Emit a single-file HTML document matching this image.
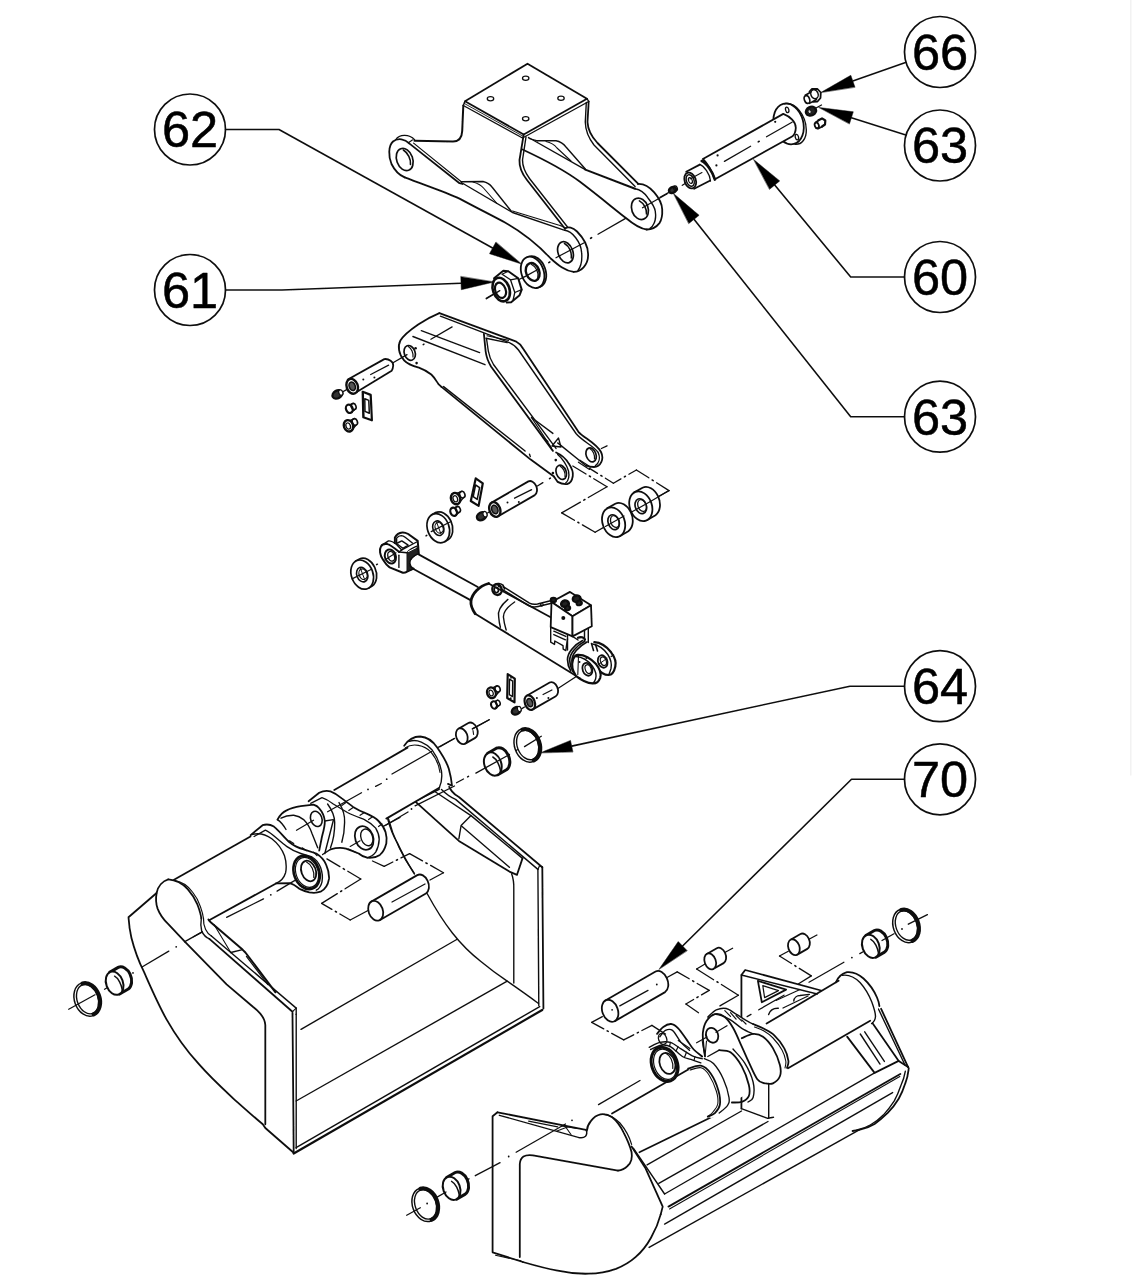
<!DOCTYPE html>
<html><head><meta charset="utf-8"><title>Parts diagram</title>
<style>
html,body{margin:0;padding:0;background:#fff;}
body{width:1132px;height:1277px;overflow:hidden;font-family:"Liberation Sans",sans-serif;}
svg{display:block;font-family:"Liberation Sans",sans-serif;}
</style></head><body>
<svg width="1132" height="1277" viewBox="0 0 1132 1277" stroke="#111" stroke-linecap="round" stroke-linejoin="round" fill="none">
<defs><filter id="soft" x="0" y="0" width="100%" height="100%" filterUnits="userSpaceOnUse"><feGaussianBlur stdDeviation="0.4"/></filter></defs>
<rect x="0" y="0" width="1132" height="1277" fill="#fff" stroke="none"/>
<g filter="url(#soft)">
<circle cx="190" cy="129.5" r="35.5" stroke-width="1.7" fill="#fff"/>
<text x="190" y="147.3" text-anchor="middle" font-size="50.5" stroke="#000" stroke-width="0.5" fill="#000">62</text>
<circle cx="190" cy="290" r="35.5" stroke-width="1.7" fill="#fff"/>
<text x="190" y="307.8" text-anchor="middle" font-size="50.5" stroke="#000" stroke-width="0.5" fill="#000">61</text>
<circle cx="940" cy="52" r="35.5" stroke-width="1.7" fill="#fff"/>
<text x="940" y="69.8" text-anchor="middle" font-size="50.5" stroke="#000" stroke-width="0.5" fill="#000">66</text>
<circle cx="940" cy="145.5" r="35.5" stroke-width="1.7" fill="#fff"/>
<text x="940" y="163.3" text-anchor="middle" font-size="50.5" stroke="#000" stroke-width="0.5" fill="#000">63</text>
<circle cx="940" cy="277" r="35.5" stroke-width="1.7" fill="#fff"/>
<text x="940" y="294.8" text-anchor="middle" font-size="50.5" stroke="#000" stroke-width="0.5" fill="#000">60</text>
<circle cx="940" cy="416.7" r="35.5" stroke-width="1.7" fill="#fff"/>
<text x="940" y="434.5" text-anchor="middle" font-size="50.5" stroke="#000" stroke-width="0.5" fill="#000">63</text>
<path d="M225.5,129.5 L279.0,129.5 L492.6,248.0" stroke-width="1.6" fill="none" />
<path d="M521.5,264.0 L489.5,253.7 L495.8,242.3 Z" stroke-width="0.5" fill="#000" />
<path d="M225.5,290.0 L282.0,290.0 L461.0,283.2" stroke-width="1.6" fill="none" />
<path d="M494.0,282.0 L461.3,289.7 L460.8,276.7 Z" stroke-width="0.5" fill="#000" />
<path d="M904.5,277.0 L850.7,277.0 L774.7,185.0" stroke-width="1.6" fill="none" />
<path d="M753.7,159.6 L779.7,180.9 L769.7,189.2 Z" stroke-width="0.5" fill="#000" />
<path d="M904.5,416.7 L850.7,416.7 L694.0,219.3" stroke-width="1.6" fill="none" />
<path d="M673.5,193.5 L699.1,215.3 L688.9,223.4 Z" stroke-width="0.5" fill="#000" />
<line x1="1130.8" y1="0" x2="1130.8" y2="775" stroke="#f1f1f1" stroke-width="1.4"/>
<path d="M527.5,63.7 L465.0,101.2 L523.7,134.5 L587.0,98.7 Z" stroke-width="1.8" fill="none" />
<path d="M463.3,105.5 L522.5,138.0 L588.7,101.5" stroke-width="1.4" fill="none" />
<path d="M464.0,103.3 L523.0,136.2" stroke-width="0.9" fill="none" />
<path d="M465.0,101.2 L463.3,105.5" stroke-width="1.4" fill="none" />
<path d="M587.0,98.7 L588.7,101.5" stroke-width="1.4" fill="none" />
<ellipse cx="525.7" cy="78.2" rx="3.2" ry="2.1" transform="rotate(0 525.7 78.2)" stroke-width="1.3" fill="none"/>
<ellipse cx="490.5" cy="98.7" rx="3.2" ry="2.1" transform="rotate(0 490.5 98.7)" stroke-width="1.3" fill="none"/>
<ellipse cx="561" cy="98.3" rx="3.2" ry="2.1" transform="rotate(0 561 98.3)" stroke-width="1.3" fill="none"/>
<ellipse cx="525.7" cy="118.8" rx="3.2" ry="2.1" transform="rotate(0 525.7 118.8)" stroke-width="1.3" fill="none"/>
<path d="M463.3,105.5 L462.2,131 Q461.8,141.3 453,141.6 L414.5,140.8" stroke-width="2.0" fill="none" />
<path d="M409.2,143.4 C405,139 398,137.5 393,141.5 C388,146 388.5,157 391.5,164 C395,171 400,175.5 404.7,177.4" stroke-width="1.8" fill="none" />
<path d="M395.9,139.5 C399,134.5 409,133.5 414.5,139.8" stroke-width="1.4" fill="none" />
<path d="M408.3,142.7 L412.4,139.9" stroke-width="1.2" fill="none" />
<ellipse cx="404.7" cy="159.5" rx="8" ry="11.5" transform="rotate(-20 404.7 159.5)" stroke-width="1.7" fill="none"/>
<path d="M403.4,150 C408,153 411,159 410.5,164.5" stroke-width="1.6" fill="none" />
<path d="M404.7,177.4 C430,187 445,192 459.5,198.6 C475,207 495,217 505,222.5 C525,234 540,247 550.7,258.5 C558,265 565,271 573.6,271.8" stroke-width="1.8" fill="none" />
<path d="M409.2,143.4 L459.5,183.2 L462.5,184.0" stroke-width="1.8" fill="none" />
<path d="M413.6,143.1 L461.3,181.8" stroke-width="1.2" fill="none" />
<path d="M461.3,182.5 L512.5,212.5 L564.8,230.3" stroke-width="1.4" fill="none" />
<path d="M461.3,181.8 L483,181.5 Q489,183 492,187 L511.5,211.5" stroke-width="1.4" fill="none" />
<path d="M473,182 Q480,184 483.5,188 L497,203.5" stroke-width="1.1" fill="none" />
<path d="M512.5,211.0 L560.0,225.5 L566.0,228.0" stroke-width="1.1" fill="none" />
<path d="M523.7,134.5 L519.5,160 Q519,170 527,180 L565,228.7" stroke-width="1.8" fill="none" />
<path d="M526,137 L522.5,160 Q522.5,169 529.5,178.5 L567.5,227" stroke-width="1.4" fill="none" />
<path d="M565,228.7 C568,226 573,227.5 577,231.5 C584,238.5 588.5,247 588.1,255.5 C588,265 581,272 573.6,271.8" stroke-width="1.8" fill="none" />
<path d="M564.8,230.3 C572,231 581,242 581.6,252.4 C582.5,261 580.5,267 578,270.5" stroke-width="1.4" fill="none" />
<ellipse cx="565.5" cy="252.3" rx="7.4" ry="11" transform="rotate(-20 565.5 252.3)" stroke-width="1.7" fill="none"/>
<path d="M564.5,243.5 C569,246 572,252 571.3,258" stroke-width="1.6" fill="none" />
<path d="M588.7,101.5 L587.5,122 Q588,133 597.5,143 L638.3,183.9" stroke-width="1.8" fill="none" />
<path d="M586.3,102.5 L585.3,122 Q585.5,134 594,145 L635.1,186.6" stroke-width="1.4" fill="none" />
<path d="M528.5,137.5 L585.3,169.6" stroke-width="1.4" fill="none" />
<path d="M585.3,169.6 L635.1,188.7" stroke-width="2.0" fill="none" />
<path d="M537.5,140.8 L556,140.8 Q562,142 566,147 L585.3,169" stroke-width="1.4" fill="none" />
<path d="M546,141.5 Q553,143 557,148 L571,161" stroke-width="1.1" fill="none" />
<path d="M529.0,138.5 L537.5,140.8" stroke-width="1.2" fill="none" />
<path d="M522.5,149.5 C545,160 565,170.5 580,181.8 C600,197 613,208 625.6,217.8 C633,224 640,229 646.8,229.5" stroke-width="1.8" fill="none" />
<path d="M637.8,183.9 C644,183.5 650,187.5 654.2,192.4 C659,198 662,204 662.2,209.4 C662.5,215 661.5,220 659.5,223.1 C656,227.5 652,229.5 646.8,229.5" stroke-width="1.8" fill="none" />
<path d="M635.1,188.7 C640,189.5 645,193.5 647.8,197.7 C652,203 655,207 655.3,211.5 C656,216 655.5,220 654.2,223.1 C653,226 651.5,227.5 650,228.4" stroke-width="1.4" fill="none" />
<ellipse cx="639.9" cy="208.8" rx="8.2" ry="11" transform="rotate(-20 639.9 208.8)" stroke-width="1.7" fill="none"/>
<path d="M639.4,200.9 C644,203.5 647,209 646.5,214" stroke-width="1.6" fill="none" />
<path d="M666.9,194.0 L642.5,207.8" stroke-width="1.3" fill="none" />
<path d="M625.6,218.4 L598.0,234.3" stroke-width="1.3" fill="none" />
<path d="M591.6,237.7 L590.6,238.3" stroke-width="1.6" fill="none" />
<path d="M584.2,242.7 L556.0,257.7" stroke-width="1.3" fill="none" />
<path d="M549.8,262.0 L548.8,262.6" stroke-width="1.6" fill="none" />
<path d="M538.3,269.2 L522.4,278.0" stroke-width="1.3" fill="none" />
<path d="M501.2,289.5 L486.2,298.3" stroke-width="1.3" fill="none" />
<ellipse cx="534.3" cy="271.8" rx="11.3" ry="16.2" transform="rotate(-20 534.3 271.8)" stroke-width="1.8" fill="none"/>
<ellipse cx="532.6" cy="272.4" rx="11.1" ry="16.2" transform="rotate(-20 532.6 272.4)" stroke-width="1.8" fill="#fff"/>
<ellipse cx="532.7" cy="271.9" rx="6.6" ry="9.2" transform="rotate(-20 532.7 271.9)" stroke-width="2.4" fill="none"/>
<path d="M531.5,264.5 C536,266.5 538.8,272 537.8,277.5" stroke-width="1.3" fill="none" />
<path d="M538.3,269.2 L524.5,276.9" stroke-width="1.3" fill="none" />
<path d="M519.6,279.3 L523.8,277.0" stroke-width="1.3" fill="none" />
<path d="M494.1,278.3 L503.3,270.8 L508.3,271.2 L518.2,278.3 L521.7,289.6 L519.6,295.2 L511.1,302.3 L506.9,302.6" stroke-width="2.0" fill="#fff" />
<path d="M502.0,274.2 L508.3,271.2" stroke-width="1.2" fill="none" />
<path d="M502.5,274.5 L510.5,279.8 L518.2,278.3" stroke-width="1.3" fill="none" />
<path d="M510.5,279.8 L514.8,292.5 L521.7,289.6" stroke-width="1.3" fill="none" />
<path d="M514.8,292.5 L513.0,300.5" stroke-width="1.3" fill="none" />
<ellipse cx="501.2" cy="289.6" rx="8.2" ry="12.2" transform="rotate(-20 501.2 289.6)" stroke-width="2.6" fill="#fff"/>
<ellipse cx="500.5" cy="290.3" rx="5.2" ry="7.9" transform="rotate(-20 500.5 290.3)" stroke-width="2.2" fill="none"/>
<path d="M486.4,298.8 L499.8,290.6" stroke-width="1.3" fill="none" />
<ellipse cx="788.6" cy="123.9" rx="14.7" ry="20.8" transform="rotate(-15 788.6 123.9)" stroke-width="1.8" fill="none"/>
<path d="M784.5,103.8 C795,101.5 806,115 806.3,130 C806.5,139 801.5,145 795,144.3" stroke-width="1.4" fill="none" />
<path d="M702.9,159 L783.3,113.9 C790,116.5 796,122 795.8,128 C795.6,132 794.5,134.5 792.5,136.3 L714.9,179.2 C712,172 708,164 702.9,159 Z" stroke-width="1.8" fill="#fff" />
<ellipse cx="787.2" cy="109.8" rx="1.6" ry="2.8" transform="rotate(-15 787.2 109.8)" stroke-width="1.3" fill="none"/>
<ellipse cx="796.9" cy="137.1" rx="1.6" ry="2.8" transform="rotate(-15 796.9 137.1)" stroke-width="1.3" fill="none"/>
<path d="M701.7,161 C706,162.5 713,172 714.9,179.6" stroke-width="2.6" fill="none" />
<path d="M699.8,164.3 C704,166 710,174 710.5,181" stroke-width="1.3" fill="none" />
<path d="M699.8,164.6 L686.2,171.8 M709.8,180.8 L694.2,188.8" stroke-width="1.8" fill="none" />
<path d="M702.0,172.5 L690.0,179.0" stroke-width="1.1" fill="none" />
<ellipse cx="690.2" cy="180.5" rx="5.6" ry="8.2" transform="rotate(-20 690.2 180.5)" stroke-width="1.8" fill="none"/>
<ellipse cx="690.2" cy="180.5" rx="3.8" ry="6" transform="rotate(-20 690.2 180.5)" stroke-width="1.5" fill="none"/>
<ellipse cx="690.4" cy="180.5" rx="1.8" ry="3" transform="rotate(-20 690.4 180.5)" stroke-width="1.2" fill="none"/>
<circle cx="775.2" cy="121.8" r="1.1" fill="#111" stroke="none"/>
<circle cx="717.6" cy="155.4" r="1.1" fill="#111" stroke="none"/>
<circle cx="716.4" cy="165.4" r="1.1" fill="#111" stroke="none"/>
<path d="M724.4,161.4 L750.6,146.3" stroke-width="1.3" fill="none" />
<path d="M758.2,141.9 L759.2,141.3" stroke-width="1.6" fill="none" />
<path d="M766.5,136.8 L792.0,122.3" stroke-width="1.3" fill="none" />
<path d="M682.3,185.3 L684.8,183.8" stroke-width="1.3" fill="none" />
<path d="M660.0,197.2 L668.5,192.6" stroke-width="1.3" fill="none" />
<ellipse cx="672.5" cy="190" rx="3.6" ry="2.8" transform="rotate(-30 672.5 190)" stroke-width="2.6" fill="#333"/>
<ellipse cx="675.5" cy="188.4" rx="1.8" ry="2.6" transform="rotate(-20 675.5 188.4)" stroke-width="1.3" fill="none"/>
<path d="M809.5,91.5 L812.0,88.8 L817.5,89.0 L820.8,92.5 L820.5,98.0 L817.5,101.5 L813.0,101.8" stroke-width="1.8" fill="none" />
<ellipse cx="814.5" cy="94.2" rx="3.6" ry="4.6" transform="rotate(-20 814.5 94.2)" stroke-width="1.5" fill="none"/>
<path d="M811,92 L805.2,95.2 M816.5,99.5 L809.5,103.4" stroke-width="1.6" fill="none" />
<ellipse cx="807" cy="99.5" rx="2.6" ry="4" transform="rotate(-20 807 99.5)" stroke-width="1.6" fill="none"/>
<ellipse cx="811" cy="111.2" rx="5.2" ry="4.2" transform="rotate(-25 811 111.2)" stroke-width="2.4" fill="#222"/>
<ellipse cx="809.6" cy="111.6" rx="1.6" ry="1.9" transform="rotate(-20 809.6 111.6)" stroke-width="1.0" fill="#ddd"/>
<path d="M815.0,108.5 L821.5,105.0" stroke-width="1.3" fill="none" />
<path d="M818.5,120.2 L822.0,118.4 L825.3,120.5 L825.0,124.5 L822.0,126.5" stroke-width="2.2" fill="none" />
<path d="M818.5,120.5 L815.5,122.6 M822,126.8 L818,128.6" stroke-width="1.8" fill="none" />
<ellipse cx="816.8" cy="125.4" rx="2" ry="2.9" transform="rotate(-20 816.8 125.4)" stroke-width="1.8" fill="none"/>
<path d="M905.5,62.5 L852.8,81.1" stroke-width="1.6" fill="none" />
<path d="M820.8,92.5 L850.8,75.3 L854.9,87.0 Z" stroke-width="0.5" fill="#000" />
<path d="M905.8,135.0 L851.4,117.8" stroke-width="1.6" fill="none" />
<path d="M819.0,107.5 L853.3,111.8 L849.5,123.7 Z" stroke-width="0.5" fill="#000" />
<path d="M439.4,313.1 L515.7,341.3 Q520,343.5 523,348.5 L578.4,431.8 C584,438 596,443 601,452 C604.5,459 600.5,467 594,467 C590,467 588,466.5 586.3,465.5" stroke-width="1.8" fill="none" />
<path d="M440.4,316.2 L486,333.6 L509.3,342.6 Q515,345 518.5,350 L576,433.5 C582,441 594,446 598.2,452.5 C600.5,458 599,463 595.5,465.5" stroke-width="1.4" fill="none" />
<path d="M439.4,313.1 C430,317 424,320.5 418.2,324.4 C410,330 403,336 400.4,340.5 C397.5,346 398.5,354 404.1,360.3 C408,364.5 413,366 418.9,367.7 C425,370 428,372 431.3,374.5 C435,378 436.5,381.5 438.7,384.4 L441.5,386.9" stroke-width="1.8" fill="none" />
<path d="M441.5,386.9 L530.7,459.6 L553.9,476.5" stroke-width="1.8" fill="none" />
<path d="M443.6,386.6 L525.1,451.0" stroke-width="1.4" fill="none" />
<path d="M529.5,454.2 L530.3,456.6" stroke-width="1.4" fill="none" />
<ellipse cx="409.7" cy="352.9" rx="5.4" ry="7.6" transform="rotate(-20 409.7 352.9)" stroke-width="1.7" fill="none"/>
<path d="M408.3,346.5 C411.5,348.5 413.5,353 413,357" stroke-width="1.2" fill="none" />
<circle cx="415.6" cy="348.3" r="1.3" fill="#111" stroke="none"/>
<circle cx="416.6" cy="363.1" r="1.3" fill="#111" stroke="none"/>
<path d="M421.3,330.7 L479.6,352.6" stroke-width="1.4" fill="none" />
<path d="M412.9,336.5 L485.0,364.7" stroke-width="1.4" fill="none" />
<path d="M430.9,339.2 L452.1,326.9" stroke-width="1.3" fill="none" />
<path d="M423.2,344.7 L424.0,344.2" stroke-width="1.5" fill="none" />
<path d="M483.9,333.9 L485.6,351 Q486.5,359 491,366.5 L552.9,450.9" stroke-width="1.8" fill="none" />
<path d="M486.5,338.5 L488.3,351 Q489.5,358 493.5,364.5 L556,448.4" stroke-width="1.4" fill="none" />
<path d="M486.0,338.2 L507.2,342.6" stroke-width="1.4" fill="none" />
<path d="M487.0,335.8 L508.5,340.4" stroke-width="1.1" fill="none" />
<path d="M531.5,417.5 L552.9,433.4" stroke-width="1.4" fill="none" />
<path d="M531.5,417.5 L551.3,447.7" stroke-width="1.2" fill="none" />
<path d="M543.3,437.8 L548.0,441.5" stroke-width="1.2" fill="none" />
<path d="M552.0,446.0 L558.5,438.0 L561.0,447.0 L552.0,446.0" stroke-width="1.3" fill="none" />
<path d="M586.3,466.0 L557.7,442.9" stroke-width="1.4" fill="none" />
<ellipse cx="591.1" cy="454.9" rx="4.9" ry="7.2" transform="rotate(-20 591.1 454.9)" stroke-width="1.7" fill="none"/>
<path d="M590,448.8 C593,450.5 595,455 594.5,459" stroke-width="1.2" fill="none" />
<path d="M601.4,448.5 L607.0,445.8" stroke-width="1.3" fill="none" />
<path d="M556.1,452.5 C562,455 566,459 568.8,463.6 C572,468.5 573.5,472 572.8,476 C572,481 570,483.5 567.2,484 C563,484.5 560.5,483.5 557.7,481.9 L553.9,476.5" stroke-width="1.8" fill="none" />
<path d="M557.7,454.5 C562,458 567,465 568.5,471 C569.5,476 568.5,480.5 565.7,483" stroke-width="1.4" fill="none" />
<ellipse cx="561.2" cy="472.3" rx="5" ry="7.3" transform="rotate(-20 561.2 472.3)" stroke-width="1.7" fill="none"/>
<path d="M560.2,466.2 C563.5,468 565.5,472.5 565,476.5" stroke-width="1.2" fill="none" />
<circle cx="555.8" cy="460.1" r="1.3" fill="#111" stroke="none"/>
<circle cx="552.9" cy="473.1" r="1.3" fill="#111" stroke="none"/>
<path d="M347.8,379.5 L384.3,359.1 C389,358.5 393.5,362 393.2,365.5 C393,368 392.5,369.8 391.7,370.8 L357.1,391.8" stroke-width="1.8" fill="none" />
<ellipse cx="352.2" cy="386.3" rx="5.6" ry="7.6" transform="rotate(-20 352.2 386.3)" stroke-width="2.4" fill="none"/>
<ellipse cx="352.2" cy="386.3" rx="3.0" ry="4.4" transform="rotate(-20 352.2 386.3)" stroke-width="1.6" fill="#555"/>
<path d="M370.7,374.5 L388.6,365.2" stroke-width="1.3" fill="none" />
<circle cx="363.3" cy="379.5" r="1.0" fill="#111" stroke="none"/>
<circle cx="374.4" cy="377.6" r="1.0" fill="#111" stroke="none"/>
<path d="M393.0,362.8 L407.0,354.6" stroke-width="1.3" fill="none" />
<path d="M342.9,391.8 L346.6,389.6" stroke-width="1.3" fill="none" />
<ellipse cx="337.4" cy="394.4" rx="5.2" ry="3.8" transform="rotate(-30 337.4 394.4)" stroke-width="2.4" fill="#333"/>
<ellipse cx="340.8" cy="392.6" rx="2" ry="2.8" transform="rotate(-20 340.8 392.6)" stroke-width="1.3" fill="#fff"/>
<ellipse cx="349.3" cy="408.8" rx="3.3" ry="4.3" transform="rotate(-20 349.3 408.8)" stroke-width="2.2" fill="none"/>
<ellipse cx="353.6" cy="406.5" rx="2.4" ry="3.2" transform="rotate(-20 353.6 406.5)" stroke-width="1.6" fill="none"/>
<path d="M350.0,404.7 L353.5,403.4" stroke-width="1.4" fill="none" />
<path d="M351.0,412.8 L354.5,409.8" stroke-width="1.4" fill="none" />
<ellipse cx="348.5" cy="425.8" rx="4.6" ry="5.8" transform="rotate(-20 348.5 425.8)" stroke-width="2.4" fill="none"/>
<ellipse cx="348.2" cy="426" rx="2.2" ry="3.2" transform="rotate(-20 348.2 426)" stroke-width="1.3" fill="none"/>
<ellipse cx="354.8" cy="422" rx="2.6" ry="3.4" transform="rotate(-20 354.8 422)" stroke-width="1.6" fill="none"/>
<path d="M350.5,420.4 L354.5,418.6" stroke-width="1.4" fill="none" />
<path d="M351.5,430.8 L355.8,425.3" stroke-width="1.4" fill="none" />
<path d="M362.7,391.8 L370.7,394.9 L371.9,420.3 L363.3,417.2 Z" stroke-width="2.2" fill="none" />
<path d="M364.8,398.8 L368.8,400.4 L369.3,413.2 L365.0,411.4 Z" stroke-width="1.5" fill="none" />
<path d="M363.5,393.7 L363.9,416.3" stroke-width="1.0" fill="none" />
<path d="M491.6,502.6 L528.4,481.4 A5.32,7.60 -20 0 1 534.8,495.1 L498.0,516.4" stroke-width="1.8" fill="#fff" />
<ellipse cx="494.8" cy="509.5" rx="5.319999999999999" ry="7.6" transform="rotate(-20 494.8 509.5)" stroke-width="2.4" fill="#fff"/>
<ellipse cx="494.8" cy="509.5" rx="3.0" ry="4.4" transform="rotate(-20 494.8 509.5)" stroke-width="1.6" fill="#555"/>
<path d="M514.6,498.2 L531.6,489.7" stroke-width="1.3" fill="none" />
<circle cx="507.5" cy="502.4" r="1.0" fill="#111" stroke="none"/>
<circle cx="518.8" cy="502.1" r="1.0" fill="#111" stroke="none"/>
<path d="M537.4,486.0 L542.9,482.6" stroke-width="1.3" fill="none" />
<path d="M549.5,478.7 L550.4,478.1" stroke-width="1.5" fill="none" />
<ellipse cx="481.6" cy="516.2" rx="5" ry="3.7" transform="rotate(-30 481.6 516.2)" stroke-width="2.4" fill="#333"/>
<ellipse cx="485" cy="514.2" rx="2" ry="2.8" transform="rotate(-20 485 514.2)" stroke-width="1.3" fill="#fff"/>
<path d="M487.5,513.0 L489.5,511.8" stroke-width="1.3" fill="none" />
<ellipse cx="455.6" cy="498.6" rx="4.6" ry="5.8" transform="rotate(-20 455.6 498.6)" stroke-width="2.4" fill="none"/>
<ellipse cx="455.3" cy="498.8" rx="2.2" ry="3.2" transform="rotate(-20 455.3 498.8)" stroke-width="1.3" fill="none"/>
<ellipse cx="462.3" cy="494.6" rx="2.6" ry="3.4" transform="rotate(-20 462.3 494.6)" stroke-width="1.6" fill="none"/>
<path d="M457.5,493.2 L461.8,491.3" stroke-width="1.4" fill="none" />
<path d="M458.6,503.6 L463.3,497.9" stroke-width="1.4" fill="none" />
<ellipse cx="453.6" cy="511.8" rx="3.2" ry="4.2" transform="rotate(-20 453.6 511.8)" stroke-width="2.2" fill="none"/>
<ellipse cx="458" cy="509.5" rx="2.3" ry="3.1" transform="rotate(-20 458 509.5)" stroke-width="1.6" fill="none"/>
<path d="M454.5,507.7 L457.8,506.5" stroke-width="1.4" fill="none" />
<path d="M455.3,515.8 L458.8,512.6" stroke-width="1.4" fill="none" />
<path d="M475.7,478.4 L482.8,483.3 L478.6,505.9 L470.8,501.0 Z" stroke-width="2.2" fill="none" />
<path d="M475.6,485.0 L479.6,487.6 L477.2,499.4 L473.2,496.7 Z" stroke-width="1.5" fill="none" />
<path d="M431.9,514.7 L435.6,512.6 A10.80,15.00 -20 0 1 448.3,539.6 L444.7,541.7" stroke-width="1.7" fill="#fff" />
<ellipse cx="438.3" cy="528.2" rx="10.799999999999999" ry="15" transform="rotate(-20 438.3 528.2)" stroke-width="1.7" fill="#fff"/>
<ellipse cx="438.3" cy="528.2" rx="5.3999999999999995" ry="7.5" transform="rotate(-20 438.3 528.2)" stroke-width="1.6" fill="none"/>
<ellipse cx="439.1" cy="527.8000000000001" rx="3.8879999999999995" ry="5.3999999999999995" transform="rotate(-20 439.1 527.8000000000001)" stroke-width="1.2" fill="none"/>
<path d="M431.2,531.6 L451.0,521.5" stroke-width="1.2" fill="none" />
<path d="M436.5,522.0 L441.0,534.0" stroke-width="1.0" fill="none" />
<path d="M426.0,535.8 L426.8,535.3" stroke-width="1.5" fill="none" />
<path d="M355.8,561.1 L359.5,559.0 A10.80,15.00 -20 0 1 372.2,586.0 L368.6,588.1" stroke-width="1.7" fill="#fff" />
<ellipse cx="362.2" cy="574.6" rx="10.799999999999999" ry="15" transform="rotate(-20 362.2 574.6)" stroke-width="1.7" fill="#fff"/>
<ellipse cx="362.2" cy="574.6" rx="5.3999999999999995" ry="7.5" transform="rotate(-20 362.2 574.6)" stroke-width="1.6" fill="none"/>
<ellipse cx="363.0" cy="574.2" rx="3.8879999999999995" ry="5.3999999999999995" transform="rotate(-20 363.0 574.2)" stroke-width="1.2" fill="none"/>
<path d="M352.0,578.9 L371.0,569.5" stroke-width="1.2" fill="none" />
<path d="M360.5,568.5 L365.0,580.5" stroke-width="1.0" fill="none" />
<path d="M376.6,564.7 L377.4,564.2" stroke-width="1.5" fill="none" />
<path d="M572.8,466.0 L586.0,474.0" stroke-width="1.3" fill="none" />
<path d="M589.4,476.0 L590.4,476.7" stroke-width="1.6" fill="none" />
<path d="M593.8,478.7 L607.0,486.7" stroke-width="1.3" fill="none" />
<path d="M607.0,486.7 L588.3,497.5" stroke-width="1.3" fill="none" />
<path d="M584.9,499.5 L583.8,500.1" stroke-width="1.6" fill="none" />
<path d="M580.4,502.1 L561.7,512.9" stroke-width="1.3" fill="none" />
<path d="M561.7,512.9 L574.4,520.3" stroke-width="1.3" fill="none" />
<path d="M577.9,522.3 L578.9,522.9" stroke-width="1.6" fill="none" />
<path d="M582.4,524.9 L595.1,532.3" stroke-width="1.3" fill="none" />
<path d="M595.1,532.3 L605.4,526.4" stroke-width="1.3" fill="none" />
<path d="M589.5,468.4 L597.5,473.4" stroke-width="1.3" fill="none" />
<path d="M600.9,475.5 L602.0,476.1" stroke-width="1.6" fill="none" />
<path d="M605.4,478.2 L613.4,483.2" stroke-width="1.3" fill="none" />
<path d="M613.4,483.2 L620.9,478.9" stroke-width="1.3" fill="none" />
<path d="M624.4,476.9 L625.4,476.3" stroke-width="1.6" fill="none" />
<path d="M628.9,474.3 L636.4,470.0" stroke-width="1.3" fill="none" />
<path d="M636.4,470.0 L648.8,477.8" stroke-width="1.3" fill="none" />
<path d="M652.2,480.0 L653.2,480.6" stroke-width="1.6" fill="none" />
<path d="M656.6,482.8 L669.0,490.6" stroke-width="1.3" fill="none" />
<path d="M669.0,490.6 L656.3,497.8" stroke-width="1.3" fill="none" />
<path d="M578.4,462.2 L589.5,469.4" stroke-width="1.2" fill="none" />
<path d="M580.0,460.2 L590.5,467.0" stroke-width="1.2" fill="none" />
<path d="M607.1,508.4 L615.3,503.7 A11.02,15.30 -20 0 1 628.3,531.2 L620.1,536.0" stroke-width="1.8" fill="#fff" />
<ellipse cx="613.6" cy="522.2" rx="11.016" ry="15.3" transform="rotate(-20 613.6 522.2)" stroke-width="1.8" fill="#fff"/>
<ellipse cx="613.6" cy="522.2" rx="5.508" ry="7.65" transform="rotate(-20 613.6 522.2)" stroke-width="1.7" fill="none"/>
<ellipse cx="614.9" cy="521.5" rx="4.131" ry="6.120000000000001" transform="rotate(-20 614.9 521.5)" stroke-width="1.3" fill="none"/>
<path d="M634.3,492.4 L642.5,487.7 A11.02,15.30 -20 0 1 655.5,515.2 L647.3,520.0" stroke-width="1.8" fill="#fff" />
<ellipse cx="640.8" cy="506.2" rx="11.016" ry="15.3" transform="rotate(-20 640.8 506.2)" stroke-width="1.8" fill="#fff"/>
<ellipse cx="640.8" cy="506.2" rx="5.508" ry="7.65" transform="rotate(-20 640.8 506.2)" stroke-width="1.7" fill="none"/>
<ellipse cx="642.0999999999999" cy="505.5" rx="4.131" ry="6.120000000000001" transform="rotate(-20 642.0999999999999 505.5)" stroke-width="1.3" fill="none"/>
<path d="M605.4,526.4 L624.0,516.0" stroke-width="1.2" fill="none" />
<path d="M631.6,512.1 L650.0,501.8" stroke-width="1.2" fill="none" />
<path d="M650.0,501.8 L669.0,490.6" stroke-width="1.2" fill="none" />
<path d="M417.7,553.9 L477.8,587.0" stroke-width="1.8" fill="none" />
<path d="M413.5,569.0 L471.4,600.6" stroke-width="1.8" fill="none" />
<path d="M417.2,553.6 C412,556 409,560 409.6,563 C410,566 411.5,568 413.5,569" stroke-width="1.8" fill="none" />
<path d="M399.1,552 C395,548.5 391,545 387.5,544.1 C384,543.5 382,544.5 381.1,546.2 C379.5,548.5 379.8,550.5 380.1,552.6 C380.5,555.5 381.5,557.5 383.2,560 C385,563 387,565.5 389.6,567.4 L402.9,572.7 C404.5,572.9 406,572.3 407.1,571.6 L413.5,568.5" stroke-width="2.0" fill="none" />
<path d="M381.5,545.3 L388.5,540.9 C391,540.7 394,542.5 396.5,544.5 L401.8,549.9" stroke-width="1.4" fill="none" />
<path d="M399.1,552.0 L401.8,549.9 L416.6,542.0" stroke-width="1.4" fill="none" />
<path d="M398.9,555.2 L398.9,567.4" stroke-width="1.4" fill="none" />
<path d="M399.1,552.0 L407.0,552.8" stroke-width="1.4" fill="none" />
<ellipse cx="390.4" cy="556.5" rx="5.4" ry="7.2" transform="rotate(-20 390.4 556.5)" stroke-width="2.0" fill="none"/>
<ellipse cx="391.2" cy="556.3" rx="3.2" ry="5" transform="rotate(-20 391.2 556.3)" stroke-width="1.4" fill="none"/>
<path d="M384.8,560.0 L396.0,552.8" stroke-width="1.1" fill="none" />
<path d="M394.9,543 L394.9,537.5 C396.5,534.5 399.5,532.6 402.3,532.4 C404.5,532.3 406.5,533 408.2,534 L417.7,540.9 L418.8,553.6" stroke-width="2.0" fill="none" />
<path d="M396.6,542.8 L396.6,538.2 C398,536.3 399.8,535.6 401.3,535.6 C403,535.7 404.5,536.7 405.5,537.5 L412.4,543" stroke-width="1.4" fill="none" />
<path d="M396.5,543.5 L401.8,540.9 L408.2,545.1 L402.9,548.3 Z" stroke-width="1.4" fill="none" />
<path d="M407.1,552.6 C409,550 413,547.5 416.8,546 L418.5,553.6 C413,556 409.5,560 409.6,563.5 C409.8,566.5 411.5,568.3 413.5,569 L407.1,571.3 Z" stroke-width="1.2" fill="#222" />
<path d="M408.5,551.5 L416.2,547.6" stroke-width="1.0" fill="none" stroke="#fff"/>
<path d="M488.6,583.5 L552,618 L576.5,676 L475.2,613.7 C472,609 470.5,605 471,601 C472,594 479,586 488.6,583.5 Z" stroke-width="0" fill="#fff" stroke="none"/>
<path d="M488.6,583.5 C479,586 472,594 471,601 C470.5,605 472,609 475.2,613.7" stroke-width="2.8" fill="none" />
<path d="M475.2,613.7 L575.9,675.8" stroke-width="1.8" fill="none" />
<path d="M488.6,583.5 L552.0,618.0" stroke-width="1.8" fill="none" />
<path d="M507.9,599.4 C500,606 497.5,612 498.7,617.1 C499,621 499.5,624 500.4,627.3" stroke-width="1.4" fill="none" />
<path d="M514.6,602 C506,608 502.5,614 503.7,618.7 C504,623 505,626 506.2,630" stroke-width="1.4" fill="none" />
<ellipse cx="497" cy="589.6" rx="4.6" ry="5.4" transform="rotate(-20 497 589.6)" stroke-width="2.4" fill="none"/>
<ellipse cx="496.3" cy="590" rx="2.0" ry="2.6" transform="rotate(-20 496.3 590)" stroke-width="1.6" fill="none"/>
<path d="M494.5,584.8 C497,582.8 501,583.2 503.2,585.4 L504.5,589" stroke-width="1.6" fill="none" />
<circle cx="493.8" cy="592.6" r="1.0" fill="#111" stroke="none"/>
<circle cx="498.8" cy="586.4" r="1.0" fill="#111" stroke="none"/>
<path d="M503.2,586.6 L529.5,603.2 Q533,605 537.5,604 L551.5,600.5" stroke-width="1.5" fill="none" />
<path d="M502.5,589.6 L528.5,605.6 Q533,607.8 538,606.6 L551.5,603.2" stroke-width="1.5" fill="none" />
<ellipse cx="541.8" cy="605" rx="1.6" ry="1.1" transform="rotate(-15 541.8 605)" stroke-width="1.0" fill="none"/>
<path d="M551.5,602.0 L570.0,591.9 L591.0,605.3 L572.5,616.2 Z" stroke-width="1.8" fill="#fff" />
<path d="M551.5,602.0 L550.7,627.1 L572.5,636.4 L572.5,616.2 Z" stroke-width="1.8" fill="#fff" />
<path d="M572.5,616.2 L572.5,636.4 L591.8,626.3 L591.0,605.3 Z" stroke-width="1.8" fill="#fff" />
<circle cx="563.3" cy="617.9" r="2.0" fill="#111" stroke="none"/>
<ellipse cx="565" cy="603.8" rx="3.8" ry="3.2" transform="rotate(-10 565 603.8)" stroke-width="2.6" fill="#222"/>
<ellipse cx="567.5" cy="608.0" rx="2.6" ry="2.2" transform="rotate(-10 567.5 608.0)" stroke-width="2.2" fill="#222"/>
<ellipse cx="576.7" cy="598.8" rx="3.8" ry="3.2" transform="rotate(-10 576.7 598.8)" stroke-width="2.6" fill="#222"/>
<ellipse cx="579.2" cy="603.0" rx="2.6" ry="2.2" transform="rotate(-10 579.2 603.0)" stroke-width="2.2" fill="#222"/>
<ellipse cx="553.4" cy="600" rx="2.6" ry="2.2" transform="rotate(0 553.4 600)" stroke-width="2.2" fill="#222"/>
<path d="M550.7,627.1 L550.7,642.2 L554.5,644.4 L554.8,641.0 L563.0,645.6 L563.2,649.2 L565.8,650.6 L567.5,638.9" stroke-width="1.4" fill="none" />
<path d="M553.8,631.2 L565.8,636.4" stroke-width="1.4" fill="none" />
<path d="M553.8,634.6 L565.5,639.8" stroke-width="1.4" fill="none" />
<path d="M567.5,634.5 L567.5,650.0" stroke-width="1.4" fill="none" />
<path d="M584.5,630.2 L584.5,641.5" stroke-width="1.4" fill="none" />
<path d="M588.3,628.2 L588.3,642.5" stroke-width="1.4" fill="none" />
<path d="M572.5,636.4 L578.0,640.0" stroke-width="1.4" fill="none" />
<path d="M582.6,640.6 C574,645.0 567.5,653.0 567.5,659.5 C567.5,664.0 569,668.0 570.8,671.0" stroke-width="1.7" fill="none" />
<path d="M584.8000000000001,641.26 C576.2,645.66 569.7,653.66 569.7,660.16 C569.7,664.66 571.2,668.66 573.0,671.66" stroke-width="1.7" fill="none" />
<path d="M587.0,641.9200000000001 C578.4,646.32 571.9,654.32 571.9,660.82 C571.9,665.32 573.4,669.32 575.1999999999999,672.32" stroke-width="1.7" fill="none" />
<path d="M578,637.8 C581,636.5 584,637.5 585,639.5" stroke-width="2.2" fill="none" />
<path d="M594.3,642.2 C600,642.5 606.5,646.5 611.1,652.3 C615,657.5 616.5,662 615.3,666.5 C614,672.5 611.5,675 608.6,675 C604,675 599.5,671.5 597,668" stroke-width="2.2" fill="#fff" />
<path d="M592.5,644 C598,645 604,649 607.8,654.5 C611,659.5 612,664 611,668.5 C610,672 609.3,673.5 608.6,675" stroke-width="1.4" fill="none" />
<ellipse cx="602.7" cy="661.5" rx="4.6" ry="6.4" transform="rotate(-20 602.7 661.5)" stroke-width="1.8" fill="none"/>
<ellipse cx="603.4" cy="661.3" rx="2.8" ry="4.4" transform="rotate(-20 603.4 661.3)" stroke-width="1.2" fill="none"/>
<path d="M598.5,664.5 L607.0,658.3" stroke-width="1.0" fill="none" />
<path d="M611.1,656.5 L613.6,654.9" stroke-width="1.2" fill="none" />
<path d="M591.5,643.5 L593.5,650.5 M595.5,644.5 L597.5,651" stroke-width="1.6" fill="none" />
<path d="M577.6,654.8 C584,654.5 591,658.5 596,664.1 C600,669 601.5,673.5 600.2,677.8 C598.5,682.5 596,683.6 592.7,683.4 C586,683 580.5,679.5 575.9,675.8 C572.5,671 571.5,664.5 573,659.5 C574,656.5 575.5,655.2 577.6,654.8 Z" stroke-width="2.2" fill="#fff" />
<path d="M575.8,656.5 C582,657 588.5,661 592.3,666 C595.5,670.5 596.8,675 595.6,679 C594.8,681.5 593.8,682.8 592.7,683.4" stroke-width="1.4" fill="none" />
<path d="M578.5,656.0 L577.8,674.5" stroke-width="1.1" fill="none" />
<ellipse cx="587.4" cy="669.3" rx="4.8" ry="6.6" transform="rotate(-20 587.4 669.3)" stroke-width="1.8" fill="none"/>
<ellipse cx="588.2" cy="669.1" rx="2.9" ry="4.5" transform="rotate(-20 588.2 669.1)" stroke-width="1.2" fill="none"/>
<circle cx="579.5" cy="662" r="1.0" fill="#111" stroke="none"/>
<circle cx="579.5" cy="678" r="1.0" fill="#111" stroke="none"/>
<circle cx="586.5" cy="658" r="1.0" fill="#111" stroke="none"/>
<path d="M575.9,676.8 L558.3,688.2" stroke-width="1.3" fill="none" />
<path d="M526.7,695.8 L549.7,682.5 A4.95,7.50 -20 0 1 555.8,696.2 L532.9,709.4" stroke-width="1.8" fill="#fff" />
<ellipse cx="529.8" cy="702.6" rx="4.95" ry="7.5" transform="rotate(-20 529.8 702.6)" stroke-width="2.2" fill="#fff"/>
<ellipse cx="529.8" cy="702.6" rx="2.8" ry="4.2" transform="rotate(-20 529.8 702.6)" stroke-width="1.6" fill="#555"/>
<path d="M543.1,694.5 L551.9,690.0" stroke-width="1.3" fill="none" />
<circle cx="536.9" cy="698" r="1.0" fill="#111" stroke="none"/>
<circle cx="548.4" cy="698" r="1.0" fill="#111" stroke="none"/>
<ellipse cx="516.2" cy="710.8" rx="4.6" ry="3.4" transform="rotate(-30 516.2 710.8)" stroke-width="2.4" fill="#333"/>
<ellipse cx="519.3" cy="709" rx="1.8" ry="2.6" transform="rotate(-20 519.3 709)" stroke-width="1.2" fill="#fff"/>
<path d="M521.9,708.6 L524.5,707.0" stroke-width="1.3" fill="none" />
<ellipse cx="491.4" cy="692.8" rx="4.3" ry="5.4" transform="rotate(-20 491.4 692.8)" stroke-width="2.3" fill="none"/>
<ellipse cx="491.1" cy="693" rx="2.0" ry="3.0" transform="rotate(-20 491.1 693)" stroke-width="1.2" fill="none"/>
<ellipse cx="497.6" cy="689" rx="2.5" ry="3.2" transform="rotate(-20 497.6 689)" stroke-width="1.6" fill="none"/>
<path d="M493.0,687.7 L497.0,686.0" stroke-width="1.4" fill="none" />
<path d="M494.2,697.5 L498.6,692.2" stroke-width="1.4" fill="none" />
<ellipse cx="494" cy="705" rx="2.9" ry="3.8" transform="rotate(-20 494 705)" stroke-width="2.1" fill="none"/>
<ellipse cx="498" cy="703" rx="2.1" ry="2.8" transform="rotate(-20 498 703)" stroke-width="1.5" fill="none"/>
<path d="M494.8,701.3 L497.8,700.2" stroke-width="1.3" fill="none" />
<path d="M495.6,708.6 L498.8,705.8" stroke-width="1.3" fill="none" />
<path d="M507.7,674.1 L514.8,678.6 L514.5,702.4 L507.2,698.0 Z" stroke-width="2.2" fill="none" />
<path d="M509.5,679.2 L512.7,681.2 L512.5,696.6 L509.3,694.6 Z" stroke-width="1.4" fill="none" />
<circle cx="511" cy="677.8" r="0.9" fill="#111" stroke="none"/>
<circle cx="510.8" cy="698.2" r="0.9" fill="#111" stroke="none"/>
<path d="M458.4,728.8 L468.4,723.0 A5.58,8.20 -20 0 1 475.2,737.9 L465.2,743.6" stroke-width="1.8" fill="#fff" />
<ellipse cx="461.8" cy="736.2" rx="5.576" ry="8.2" transform="rotate(-20 461.8 736.2)" stroke-width="1.8" fill="#fff"/>
<path d="M430.0,751.9 L454.2,738.5" stroke-width="1.3" fill="none" />
<path d="M472.4,728.9 L489.2,719.7" stroke-width="1.3" fill="none" />
<path d="M473.0,730.5 L473.6,734.5" stroke-width="1.1" fill="none" />
<path d="M487.8,753.2 L496.4,748.2 A8.40,12.00 -20 0 1 506.5,769.8 L497.8,774.8" stroke-width="3.0" fill="#fff" />
<ellipse cx="492.8" cy="764" rx="8.399999999999999" ry="12.0" transform="rotate(-20 492.8 764)" stroke-width="2.0" fill="#fff"/>
<path d="M492.8,757.0 C496.8,759.0 499.8,766.0 500.6,771.1" stroke-width="1.5" fill="none" />
<path d="M456.5,782.8 L463.5,779.0" stroke-width="1.3" fill="none" />
<path d="M467.6,776.9 L468.5,776.4" stroke-width="1.5" fill="none" />
<path d="M475.9,773.1 L509.5,754.5" stroke-width="1.3" fill="none" />
<ellipse cx="527.3" cy="745.3" rx="12.7" ry="17.3" transform="rotate(-20 527.3 745.3)" stroke-width="1.5" fill="none"/>
<ellipse cx="527.8" cy="745.0" rx="10.6" ry="15.200000000000001" transform="rotate(-20 527.8 745.0)" stroke-width="1.4" fill="none"/>
<path d="M522.6,729.4 A11.8,16.4 -20 0 1 533.8,760.2" stroke-width="4.2" fill="none" />
<path d="M524.5,746.6 L541.3,736.3" stroke-width="1.3" fill="none" />
<path d="M516.2,750.4 L517.4,749.7" stroke-width="1.3" fill="none" />
<circle cx="940" cy="686.2" r="35.5" stroke-width="1.7" fill="#fff"/>
<text x="940" y="704.0" text-anchor="middle" font-size="50.5" stroke="#000" stroke-width="0.5" fill="#000">64</text>
<circle cx="940" cy="779.3" r="35.5" stroke-width="1.7" fill="#fff"/>
<text x="940" y="797.0999999999999" text-anchor="middle" font-size="50.5" stroke="#000" stroke-width="0.5" fill="#000">70</text>
<path d="M904.5,686.2 L849.9,686.2 L571.7,746.1" stroke-width="1.6" fill="none" />
<path d="M540.4,752.8 L570.5,740.4 L572.9,751.7 Z" stroke-width="0.5" fill="#000" />
<path d="M904.5,779.3 L851.5,779.3 L682.6,946.0" stroke-width="1.6" fill="none" />
<path d="M659.1,969.2 L678.2,941.6 L687.0,950.5 Z" stroke-width="0.5" fill="#000" />
<path d="M156.6,893 L128.5,917.3 C129,925 130,932 131.4,937.7 C135,952 139,962 144.1,972.2 C152,990 158,1004 166.4,1019.1 C176,1036 186,1050 198.5,1063.7 C210,1077 222,1088 233.1,1098.3 C244,1108 254,1117 262.8,1124.3 L265.3,1128 L293.7,1152.7" stroke-width="1.8" fill="none" />
<path d="M293.7,1153.5 L542.2,1010.0" stroke-width="2.2" fill="none" />
<path d="M296.1,1147.6 L539.7,1006.6" stroke-width="1.4" fill="none" />
<path d="M292.5,1013.0 L293.7,1152.7" stroke-width="1.8" fill="none" />
<path d="M296.2,1014.2 L296.2,1148.5" stroke-width="1.4" fill="none" />
<path d="M542.3,867.2 L543.4,1008.5" stroke-width="1.8" fill="none" />
<path d="M537.9,869.4 L538.8,1005.5" stroke-width="1.4" fill="none" />
<path d="M542.3,867.2 L539.5,865.8 L537.9,869.4" stroke-width="1.2" fill="none" />
<path d="M448,783.9 C450,790 454,794.5 458.9,797 L542.3,867.2" stroke-width="1.8" fill="none" />
<path d="M441.5,789.5 C445,793 450,797 455.6,799.4 L537.9,869.4" stroke-width="1.4" fill="none" />
<path d="M511.6,873.8 Q514,880 513.8,889.1 L513.8,983" stroke-width="1.4" fill="none" />
<path d="M434.8,791.5 L471.0,815.6 L522.5,858.4" stroke-width="1.4" fill="none" />
<path d="M471.0,815.6 L461.1,825.5 L458.9,838.7" stroke-width="1.4" fill="none" />
<path d="M415.1,801.4 L458.9,840.9 L509.4,871.6 L517.0,874.8 L522.5,858.4" stroke-width="1.8" fill="none" />
<path d="M461.5,826.0 L509.4,867.2" stroke-width="1.4" fill="none" />
<path d="M415.1,801.4 L439.2,789.3" stroke-width="1.4" fill="none" />
<path d="M387.7,818.9 C390,828 393,836 397.5,843.1 C402,853 407,862 412.9,871.6 L414.5,874" stroke-width="1.4" fill="none" />
<path d="M427.1,893.5 C435,908 443,921 452.4,933 C461,944 470,953 480.9,961.5 C490,969 498,975 507.2,981.2 C517,988 527,995 538.5,1003.5" stroke-width="1.4" fill="none" />
<path d="M301.0,1029.3 L456.7,939.5" stroke-width="1.4" fill="none" />
<path d="M296.1,1101.0 L507.2,981.2" stroke-width="1.4" fill="none" />
<path d="M168.3,879.4 C163,881 158,886 156.6,893 C155.5,899 156,904 157.6,908.6 C160,915 164,920 168.3,924.1 L184.8,941.6" stroke-width="1.8" fill="none" />
<path d="M168.3,879.4 C176,880 183,884 187.7,889.2 C192,894 195,899 197.5,904.7 C199.5,910 200.8,914 201.3,918.3" stroke-width="1.8" fill="none" />
<path d="M174.1,880.4 C181,881.5 188,886 192.5,892 C196.5,897 199,902 200.4,906.6 C202,911 203,915 203.5,918.5" stroke-width="1.2" fill="none" />
<path d="M201.3,918.3 C200.5,923 200.8,927 201.7,931.1 C203.5,935 206,937.5 209.4,938.9" stroke-width="1.4" fill="none" />
<path d="M203.5,918.5 C203.3,922.5 204,926 205.5,929.2 C207,932.5 209,934.5 211.4,936" stroke-width="1.2" fill="none" />
<path d="M174.0,879.8 L269.0,826.0" stroke-width="1.8" fill="none" />
<path d="M209.1,920.2 L276.0,883.5" stroke-width="1.8" fill="none" />
<path d="M209.4,938.9 L292.5,1011.7" stroke-width="1.8" fill="none" />
<path d="M211.4,936.0 L296.2,1008.1" stroke-width="1.4" fill="none" />
<path d="M296.2,1008.1 L296.2,1014.2" stroke-width="1.4" fill="none" />
<path d="M292.5,1011.7 L296.2,1008.1" stroke-width="1.1" fill="none" />
<path d="M184.8,941.6 L226.6,984.4 L252.9,1006.8 C261,1013 265,1018 265.3,1025 L265.3,1124.3" stroke-width="1.8" fill="none" />
<path d="M184.8,941.6 L202.3,931.9" stroke-width="1.3" fill="none" />
<path d="M208.5,919.6 L210.4,921.9 L242.5,949.6 L245.4,952.5 L275.5,992.3" stroke-width="2.0" fill="none" />
<path d="M230.8,952.5 L242.5,949.6" stroke-width="1.4" fill="none" />
<path d="M246.4,956.4 L267.7,984.5" stroke-width="1.2" fill="none" />
<path d="M214.0,924.5 L230.8,952.5" stroke-width="1.1" fill="none" />
<path d="M334.3,790 L407.5,747.6 C411,741 416,737 420.2,736.5 C428,737 434,742 437.2,747.6 C443,756 447,763 448.8,768.8 C450.5,775 451.5,780 452,785.7 L439.3,787.8 L386.3,818.6 Z" stroke-width="0" fill="#fff" stroke="none"/>
<path d="M334.3,790.0 L407.5,747.6" stroke-width="1.8" fill="none" />
<path d="M439.3,787.8 L386.3,818.6" stroke-width="1.8" fill="none" />
<path d="M400.0,817.5 L382.8,826.6" stroke-width="1.4" fill="none" />
<path d="M404.2,745.8 C408,740 414,736.5 420.2,736.5 C428,737 433.5,742 437.2,747.6 C443,756 447,763 448.8,768.8 C450.5,775 451.5,780 452,785.7 L448,783.9" stroke-width="1.8" fill="none" />
<path d="M409.5,741.3 C417,738.8 426,743 431.9,749.7 C437,756.5 440,764 441.4,770.9 C442.3,777 441.5,783 439.3,787.8" stroke-width="1.4" fill="none" />
<path d="M405.4,747.6 C413,742.8 424,745 430.8,751.8 C436,758 439,765 440,772.5" stroke-width="1.1" fill="none" />
<path d="M308.6,801.2 L319.2,792.7 C323,790.8 327,790.5 330.5,791.3 C335,793 338.5,795.5 341.8,798.4 L353.1,806.9 C358,810 362.5,812 367.2,813.9 C372,816 375.5,818 378.5,821 C382,824.5 384.3,828 385.6,832.3 C386.8,836.5 386.9,840 386.3,843.6 C385,848.5 383,852.5 379.9,854.9 C376,857.5 371.5,858.2 367.2,857.7 C364,857 361,855.5 358.7,853.5 C354,851.5 350,850 346,848.6 C341,847.3 336,847.8 330.5,849.3" stroke-width="1.8" fill="#fff" />
<path d="M310.7,803.3 L322,797.7 C326,799 330,801.5 333.3,804 L347.4,812.5 C353,815.5 359,817.5 364.4,819.6 C369,822 373,825 375.7,828.1 C378,832 379.2,836 379.2,839.4 C379,844.5 377.8,848.5 375.7,852.1 C373.5,855 370.5,857 367.2,857.7" stroke-width="1.4" fill="none" />
<path d="M339,802.6 C343,809 345,816 344.6,822.4 C344.5,830 343.5,836.5 341.8,842.2" stroke-width="1.4" fill="none" />
<path d="M327.6,804 C332,810 334.5,816 334.7,822.4 C334.8,832 333,841 330.5,847.8" stroke-width="1.4" fill="none" />
<path d="M341.8,805.4 L346.0,802.6" stroke-width="1.2" fill="none" />
<path d="M348.8,810.4 L353.1,807.6" stroke-width="1.2" fill="none" />
<path d="M360.1,815.3 L364.4,812.5" stroke-width="1.2" fill="none" />
<path d="M368.6,819.6 L372.2,817.0" stroke-width="1.2" fill="none" />
<path d="M378.5,826.5 L382.0,824.0" stroke-width="1.2" fill="none" />
<ellipse cx="364.2" cy="838" rx="9" ry="12.2" transform="rotate(-20 364.2 838)" stroke-width="1.8" fill="none"/>
<ellipse cx="366.8" cy="837.4" rx="5.8" ry="8.6" transform="rotate(-20 366.8 837.4)" stroke-width="1.4" fill="none"/>
<path d="M350.2,846.4 L360.1,840.8" stroke-width="1.2" fill="none" />
<path d="M348.5,849.0 L356.5,852.8" stroke-width="1.1" fill="none" />
<path d="M277.5,819.6 C280,815 283,812 286.6,810.4 C291,808 296,806.8 300.8,806.1 L313.5,804.7 C316,805.5 318,806.8 319.2,808.3 C322.5,812 324.3,816 324.8,821 C325,826 323.5,831 322,836.5 L319.2,850.7" stroke-width="1.8" fill="#fff" />
<path d="M281,818.2 C285,816 289,815.2 293.7,815.3 C298,816 301,817.5 303.6,819.6 C308,824 310.5,829 312.1,833.7 L317.7,847.8" stroke-width="1.4" fill="none" />
<path d="M277.5,819.6 C281,822 284,826 286,829.5" stroke-width="1.4" fill="none" />
<ellipse cx="316.3" cy="818.9" rx="5.6" ry="7.8" transform="rotate(-20 316.3 818.9)" stroke-width="1.6" fill="none"/>
<path d="M324.8,821.0 L333.3,819.6" stroke-width="1.4" fill="none" />
<path d="M324.8,853.5 L333.3,820.5" stroke-width="1.4" fill="none" />
<path d="M322.6,854.5 L330.5,849.3" stroke-width="1.4" fill="none" />
<path d="M250.6,835.1 L262.6,825.2 C267,823.8 271,824.8 273.9,826.6 C280,831.5 284,837.5 289.5,842.2 C294,846 299,848 303.6,849.3 L316.3,853.5 C321,856.5 324.5,860.5 326.2,864.8 C328.5,870 329.3,874.5 329,878.9 C328,885 325,889.5 320.6,891.7 C317,893 313,893 309.3,892.4 C304,891 301,889.5 299.4,888.8 C296,886 293,884 289.5,883.2 L276,883.3" stroke-width="1.8" fill="#fff" />
<path d="M254.1,836.5 L265.4,830.2 C272,833 279,841 286.6,846.4 C291,849.5 296,852 300.8,853.5 L312,857 C316.5,859.5 319,863.5 320.6,867.6 C322.5,873 322.8,877.5 322,881.8 C321,886 319,888.8 316.3,890.2" stroke-width="1.4" fill="none" />
<path d="M289.5,840.8 L293.7,843.6" stroke-width="1.2" fill="none" />
<path d="M302.2,847.8 L306.4,850.7" stroke-width="1.2" fill="none" />
<path d="M313.5,852.1 L317.0,855.6" stroke-width="1.2" fill="none" />
<ellipse cx="306.6" cy="872.4" rx="12.6" ry="17.2" transform="rotate(-20 306.6 872.4)" stroke-width="2.6" fill="#fff"/>
<ellipse cx="307" cy="872.4" rx="11" ry="15.4" transform="rotate(-20 307 872.4)" stroke-width="1.2" fill="none"/>
<ellipse cx="308.6" cy="871" rx="7.2" ry="10.6" transform="rotate(-20 308.6 871)" stroke-width="1.8" fill="none"/>
<path d="M306.5,862 C311.5,864.5 314.5,871 313.8,877.5" stroke-width="1.2" fill="none" />
<path d="M251.7,834.5 C259,832.5 266,834.5 271.8,838.7 C278,843.5 282,849 284.5,855.7 C286.5,862 286.5,868 285.6,872.7 C284,878 280.5,881.5 276,883.3" stroke-width="1.4" fill="none" />
<path d="M489.2,719.7 L472.4,728.9" stroke-width="1.3" fill="none" />
<path d="M454.5,738.5 L440.0,746.8" stroke-width="1.3" fill="none" />
<path d="M431.5,751.5 L392.0,774.0" stroke-width="1.3" fill="none" />
<path d="M381.3,783.5 L375.6,786.4" stroke-width="1.3" fill="none" />
<path d="M361.5,792.7 L327.6,811.8" stroke-width="1.3" fill="none" />
<path d="M313.5,820.3 L296.5,830.2" stroke-width="1.3" fill="none" />
<circle cx="386.7" cy="779.2" r="0.9" fill="#111" stroke="none"/>
<circle cx="368" cy="789.4" r="0.9" fill="#111" stroke="none"/>
<path d="M296.6,879.4 L277.1,891.1" stroke-width="1.3" fill="none" />
<path d="M263.5,898.9 L226.6,917.3" stroke-width="1.3" fill="none" />
<path d="M202.3,931.9 L193.5,936.8" stroke-width="1.3" fill="none" />
<path d="M168.8,951.1 L141.6,967.2" stroke-width="1.3" fill="none" />
<circle cx="270.8" cy="894.8" r="0.9" fill="#111" stroke="none"/>
<circle cx="176.2" cy="946.8" r="0.9" fill="#111" stroke="none"/>
<circle cx="133" cy="972.9" r="0.9" fill="#111" stroke="none"/>
<path d="M129.7,974.8 L104.5,989.3" stroke-width="1.3" fill="none" />
<path d="M95.0,994.8 L68.7,1009.3" stroke-width="1.3" fill="none" />
<path d="M386.0,825.0 L408.0,812.0" stroke-width="1.3" fill="none" />
<path d="M415.1,805.8 L454.5,786.0" stroke-width="1.3" fill="none" />
<circle cx="411.5" cy="809" r="0.9" fill="#111" stroke="none"/>
<path d="M326.9,858.9 L339.9,866.6" stroke-width="1.3" fill="none" />
<path d="M343.3,868.6 L344.4,869.3" stroke-width="1.6" fill="none" />
<path d="M347.8,871.3 L360.8,879.0" stroke-width="1.3" fill="none" />
<path d="M360.8,879.0 L345.1,888.8" stroke-width="1.3" fill="none" />
<path d="M341.7,890.9 L340.7,891.5" stroke-width="1.6" fill="none" />
<path d="M337.3,893.6 L321.6,903.4" stroke-width="1.3" fill="none" />
<path d="M321.6,903.4 L331.9,909.4" stroke-width="1.3" fill="none" />
<path d="M335.4,911.4 L336.4,912.0" stroke-width="1.6" fill="none" />
<path d="M339.9,914.0 L350.2,920.0" stroke-width="1.3" fill="none" />
<path d="M350.2,920.0 L369.0,910.0" stroke-width="1.3" fill="none" />
<path d="M372.5,861.0 L384.2,866.3" stroke-width="1.3" fill="none" />
<path d="M384.2,866.3 L392.8,862.0" stroke-width="1.3" fill="none" />
<path d="M396.4,860.2 L397.4,859.7" stroke-width="1.6" fill="none" />
<path d="M401.0,857.9 L409.6,853.6" stroke-width="1.3" fill="none" />
<path d="M409.6,853.6 L422.5,860.9" stroke-width="1.3" fill="none" />
<path d="M426.0,862.9 L427.1,863.4" stroke-width="1.6" fill="none" />
<path d="M430.6,865.4 L443.5,872.7" stroke-width="1.3" fill="none" />
<path d="M443.5,872.7 L430.0,880.0" stroke-width="1.3" fill="none" />
<path d="M371.4,901.6 L417.3,875.1 A7.14,10.20 -20 0 1 425.9,893.5 L380.0,920.0" stroke-width="1.8" fill="#fff" />
<ellipse cx="375.7" cy="910.8" rx="7.139999999999999" ry="10.2" transform="rotate(-20 375.7 910.8)" stroke-width="1.8" fill="#fff"/>
<path d="M392.0,902.0 L425.0,884.0" stroke-width="1.3" fill="none" />
<path d="M388.4,818.6 C391,829 394.5,838 399,847.2 C403,856 408,864.5 413.9,872.7" stroke-width="1.4" fill="none" />
<path d="M109.6,972.4 L118.2,967.4 A8.40,12.00 -20 0 1 128.3,989.0 L119.6,994.0" stroke-width="3.0" fill="#fff" />
<ellipse cx="114.6" cy="983.2" rx="8.399999999999999" ry="12.0" transform="rotate(-20 114.6 983.2)" stroke-width="2.0" fill="#fff"/>
<path d="M114.6,976.2 C118.6,978.2 121.6,985.2 122.4,990.3" stroke-width="1.5" fill="none" />
<ellipse cx="87.2" cy="999.4" rx="12.7" ry="17.3" transform="rotate(-20 87.2 999.4)" stroke-width="1.5" fill="none"/>
<ellipse cx="87.7" cy="999.1" rx="10.6" ry="15.200000000000001" transform="rotate(-20 87.7 999.1)" stroke-width="1.4" fill="none"/>
<path d="M82.5,983.5 A11.8,16.4 -20 0 1 93.7,1014.3" stroke-width="4.2" fill="none" />
<path d="M497.5,1112.3 L492.6,1116.2 L492.6,1252.3 L522.8,1262.0" stroke-width="1.8" fill="none" />
<path d="M495.5,1255.2 L521.0,1260.8" stroke-width="1.1" fill="none" />
<path d="M497.5,1112.3 L585.9,1129.8" stroke-width="1.8" fill="none" />
<path d="M499.4,1115.3 L579.1,1137.6" stroke-width="1.4" fill="none" />
<path d="M585.9,1129.8 C587,1132 587,1134.5 585.5,1136.3 C584,1137.8 581.5,1138 579.1,1137.6" stroke-width="1.4" fill="none" />
<path d="M528.6,1121.1 L557.7,1126.9" stroke-width="1.1" fill="none" />
<path d="M561.6,1126.0 L577.0,1128.5" stroke-width="1.1" fill="none" />
<path d="M557.0,1131.0 L568.0,1126.8" stroke-width="1.1" fill="none" />
<path d="M566.0,1127.5 L571.0,1134.5" stroke-width="1.1" fill="none" />
<path d="M618,1170.7 L533,1155.3 Q520.5,1153.5 519.8,1164 L519.8,1257.1" stroke-width="1.8" fill="none" />
<path d="M522.8,1262 C535,1265.5 546,1268.5 557.7,1270.7 C568,1273 578,1274 588.8,1273.7 C598,1273.5 607,1272 616,1268.8 C623,1266 630,1262 635.5,1257.1 C642,1251.5 647,1245 651,1237.7 C656,1229 659,1221 660.7,1214.4" stroke-width="1.8" fill="none" />
<path d="M586.9,1130.8 C587,1127 588.5,1124 590.8,1121.1 C593.5,1117.5 597,1115 600.5,1114.3 C605,1113.6 609,1115 612.2,1117.2 C617,1121 621,1127 623.8,1132.8 C627,1139 630,1146 631.6,1152.2 C632.5,1158 631,1163 627.7,1165.8 C625,1168.5 621.5,1170.2 618,1170.7" stroke-width="1.8" fill="none" />
<path d="M604.4,1114.3 C610,1115 615.5,1118.5 619.9,1123 C625,1129 629.5,1137 631.6,1144.4" stroke-width="1.2" fill="none" />
<path d="M631.6,1146.4 L645.2,1167.7 L662.7,1206.6 L660.7,1214.4" stroke-width="1.8" fill="none" />
<path d="M633.5,1148.3 L664.6,1194.0" stroke-width="1.4" fill="none" />
<path d="M612.0,1113.5 L690.0,1068.5" stroke-width="1.8" fill="none" />
<path d="M639.4,1152.2 L713.3,1116.3" stroke-width="1.8" fill="none" />
<path d="M647.1,1164.8 L741.5,1111.0" stroke-width="1.4" fill="none" />
<path d="M658.8,1183.3 L768.0,1121.5" stroke-width="1.4" fill="none" />
<path d="M664.6,1194.0 L874.6,1072.9" stroke-width="1.4" fill="none" />
<path d="M668.5,1206.6 L900.3,1074.0" stroke-width="1.9" fill="none" />
<path d="M669.5,1209.0 L899.8,1076.6" stroke-width="1.1" fill="none" />
<path d="M664.6,1224.1 L892.6,1092.6" stroke-width="1.4" fill="none" />
<path d="M649.1,1247.4 L859.2,1129.9" stroke-width="1.4" fill="none" />
<path d="M881.1,1008.8 L908.0,1066.9" stroke-width="1.8" fill="none" />
<path d="M878.2,1008.5 L905.0,1065.0" stroke-width="1.4" fill="none" />
<path d="M908,1066.9 C909,1068 909,1069 908.5,1070.2 C908,1075 907,1079 905.3,1083.3 C903.5,1089 901.5,1094 898.7,1098.7 C895.5,1104 892,1108.5 887.7,1112.9 C883.5,1117 879.5,1120.5 874.6,1123.9 C869.5,1127 864.5,1128.8 859.2,1129.9 L852.6,1131" stroke-width="1.8" fill="none" />
<path d="M905.3,1071.3 C904.5,1076 903,1081 900.9,1085.5 C899,1091 897,1096 894.3,1100.9 C891,1106 887.5,1110.5 883.3,1115.1 C879.5,1119 875,1122.5 870.2,1125 C866,1127.5 861.5,1129 857,1129.9" stroke-width="1.4" fill="none" />
<path d="M846.0,1035.1 L874.6,1072.9 L898.7,1060.9 L908.0,1066.9" stroke-width="1.8" fill="none" />
<path d="M872.4,1023.0 L898.7,1060.9" stroke-width="1.8" fill="none" />
<path d="M860.3,1034.0 L880.0,1064.1" stroke-width="1.4" fill="none" />
<path d="M864.7,1031.8 L884.4,1061.4" stroke-width="1.4" fill="none" />
<path d="M766.6,1023.6 L838.6,980.8 C842,975 846,972.5 850,972 C856,972.2 861,975 865,979 C870,984 874,990 877,996.5 C878.5,1000 879.2,1003 879.4,1006.1 L871.6,1023.6 L788,1066.3 Z" stroke-width="0" fill="#fff" stroke="none"/>
<path d="M766.6,1023.6 L838.6,980.8" stroke-width="1.8" fill="none" />
<path d="M788.0,1068.2 L870.2,1020.8" stroke-width="1.8" fill="none" />
<path d="M836,982.2 C838,977.5 842,973.5 847,972.2 C853,971.5 859,974.5 863.5,978.5 C869,983.5 874,990.5 877,997.5 C878.5,1001 879.2,1003.5 879.4,1006.1" stroke-width="1.8" fill="none" />
<path d="M842.5,975.3 C848,974.5 855,977.5 860,982.5 C865,988 869,995 871.8,1002 C874,1008 875.5,1013 875.5,1016.5 C875.3,1019.5 873.8,1022 871.6,1023.6" stroke-width="1.4" fill="none" />
<path d="M741.4,1108.5 L741.4,975.0 L745.2,970.0 L821.1,990.5" stroke-width="1.8" fill="none" />
<path d="M741.4,975.0 L817.2,994.0" stroke-width="1.4" fill="none" />
<path d="M757.9,980.8 L786.1,989.6 L761.8,1002.2 Z" stroke-width="1.8" fill="none" />
<path d="M762.8,985.6 L778.5,990.6 L764.6,997.6 Z" stroke-width="1.2" fill="none" />
<path d="M793.8,1001 C794,997.5 797,995.5 800,995.5 L809.4,994.4" stroke-width="1.4" fill="none" />
<path d="M741.4,1108.6 L767.7,1118.3 L773.5,1117.3" stroke-width="1.4" fill="none" />
<path d="M768.7,1083.3 L768.7,1118.3" stroke-width="1.4" fill="none" />
<path d="M768.6,1014.5 C770,1010 774,1008 778.3,1008.2" stroke-width="1.4" fill="none" />
<path d="M776.0,1000.5 L800.0,989.5" stroke-width="1.2" fill="none" />
<path d="M783.0,1008.0 L808.0,996.0" stroke-width="1.2" fill="none" />
<path d="M707.8,1017.0 C709.2,1015.8 713.2,1011.3 716.3,1009.9 C719.4,1008.5 722.9,1007.8 726.2,1008.5 C729.5,1009.2 732.6,1012.0 736.1,1014.1 C739.6,1016.2 744.6,1019.6 747.4,1021.2 C750.2,1022.9 752.1,1023.5 753.1,1024.0 C754.1,1024.5 751.5,1023.3 753.1,1024.0 C754.8,1024.7 759.5,1026.4 763.0,1028.3 C766.5,1030.2 770.8,1032.0 774.3,1035.3 C777.8,1038.6 781.9,1043.8 784.2,1048.1 C786.6,1052.3 787.9,1057.5 788.4,1060.8 C788.9,1064.1 787.2,1066.6 787.0,1067.8 C786.8,1069.0 789.4,1065.2 787.0,1067.8 C784.6,1070.4 776.4,1080.8 772.9,1083.4 C769.4,1086.0 772.6,1080.2 765.8,1083.4 C759.0,1086.6 741.6,1097.0 731.9,1102.5 C722.2,1108.0 715.1,1122.2 707.8,1116.6 C700.5,1110.9 697.7,1080.0 688.1,1068.6 C678.5,1057.2 655.2,1053.8 650.0,1048.0 C644.8,1042.2 653.5,1037.9 657.0,1033.9 C660.5,1029.9 663.5,1024.2 671.1,1024.0 C678.8,1023.8 697.6,1031.1 702.9,1032.5 Z" stroke-width="0" fill="#fff" stroke="none"/>
<path d="M753.1,1024.0 C754.8,1024.7 759.5,1026.4 763.0,1028.3 C766.5,1030.2 770.8,1032.0 774.3,1035.3 C777.8,1038.6 781.9,1043.8 784.2,1048.1 C786.6,1052.3 787.9,1057.5 788.4,1060.8 C788.9,1064.1 787.2,1066.6 787.0,1067.8" stroke-width="1.8" fill="none" />
<path d="M754.5,1027.0 C756.1,1027.7 760.9,1029.2 764.0,1031.0 C767.1,1032.8 770.0,1034.8 773.0,1038.0 C776.0,1041.2 779.9,1046.2 782.0,1050.0 C784.1,1053.8 785.3,1058.0 785.8,1061.0 C786.3,1064.0 785.1,1066.8 785.0,1068.0" stroke-width="1.1" fill="none" />
<path d="M741.8,1038.2 C743.7,1037.5 749.6,1034.2 753.1,1033.9 C756.6,1033.7 759.7,1034.3 763.0,1036.7 C766.3,1039.1 770.1,1043.4 772.9,1048.1 C775.7,1052.8 778.7,1060.3 779.9,1065.0 C781.1,1069.7 781.1,1073.2 779.9,1076.3 C778.7,1079.4 775.2,1082.2 772.9,1083.4 C770.5,1084.6 767.0,1083.4 765.8,1083.4" stroke-width="1.8" fill="none" />
<path d="M733.0,1049.0 C734.9,1051.3 741.2,1057.4 744.6,1062.9 C748.0,1068.4 751.7,1076.2 753.1,1082.0 C754.5,1087.8 754.0,1094.2 753.1,1097.5 C752.2,1100.8 748.9,1101.2 748.0,1102.0" stroke-width="1.4" fill="none" />
<path d="M719.2,1050.2 C721.1,1050.5 726.7,1049.6 730.5,1052.3 C734.3,1055.0 738.8,1061.0 741.8,1066.4 C744.8,1071.8 747.6,1079.8 748.8,1084.8 C750.0,1089.8 750.0,1093.3 748.8,1096.1 C747.6,1098.9 744.6,1100.7 741.8,1101.8 C739.0,1102.9 733.5,1102.4 731.9,1102.5" stroke-width="1.8" fill="none" />
<path d="M707.8,1056.5 L719.2,1050.2" stroke-width="1.4" fill="none" />
<path d="M707.8,1017.0 C709.2,1015.8 713.2,1011.3 716.3,1009.9 C719.4,1008.5 722.9,1007.8 726.2,1008.5 C729.5,1009.2 732.6,1012.0 736.1,1014.1 C739.6,1016.2 744.6,1019.6 747.4,1021.2 C750.2,1022.9 752.1,1023.5 753.1,1024.0" stroke-width="1.4" fill="none" />
<path d="M714.9,1014.1 C716.0,1014.3 718.7,1014.5 721.3,1015.5 C723.9,1016.5 727.1,1017.7 730.5,1019.8 C733.9,1021.9 738.0,1025.9 741.8,1028.3 C745.6,1030.7 751.2,1033.0 753.1,1033.9" stroke-width="1.4" fill="none" />
<path d="M705.0,1056.5 C704.8,1054.8 704.0,1050.6 703.6,1046.6 C703.2,1042.6 702.4,1036.7 702.9,1032.5 C703.4,1028.3 704.4,1024.3 706.4,1021.2 C708.4,1018.1 711.8,1014.8 714.9,1014.1 C718.0,1013.4 721.7,1014.6 724.8,1017.0 C727.9,1019.4 730.5,1023.4 733.3,1028.3 C736.1,1033.2 739.2,1040.9 741.8,1046.6 C744.4,1052.2 746.2,1056.8 748.8,1062.2 C751.4,1067.6 754.7,1075.7 757.3,1079.2 C759.9,1082.7 763.2,1082.7 764.4,1083.4" stroke-width="1.8" fill="none" />
<path d="M724.8,1010.6 L730.5,1016.3" stroke-width="1.2" fill="none" />
<path d="M730.5,1012.7 L736.1,1019.1" stroke-width="1.2" fill="none" />
<path d="M736.1,1015.5 L741.8,1021.2" stroke-width="1.2" fill="none" />
<path d="M741.8,1019.8 L746.0,1024.0" stroke-width="1.2" fill="none" />
<ellipse cx="712.1" cy="1035.3" rx="6" ry="7.6" transform="rotate(-20 712.1 1035.3)" stroke-width="1.8" fill="none"/>
<path d="M702.2,1041.0 L705.0,1056.5 L706.5,1041.0" stroke-width="1.1" fill="none" />
<path d="M657.0,1033.9 C658.0,1032.7 660.9,1028.6 663.3,1026.9 C665.6,1025.2 668.6,1023.8 671.1,1024.0 C673.6,1024.2 675.6,1025.7 678.2,1028.3 C680.8,1030.9 684.0,1036.1 686.6,1039.6 C689.2,1043.1 691.1,1046.7 693.7,1049.5 C696.3,1052.3 700.8,1055.3 702.2,1056.5" stroke-width="1.8" fill="none" />
<path d="M659.8,1036.7 C660.7,1035.7 663.3,1031.5 665.4,1030.4 C667.5,1029.4 669.9,1028.4 672.5,1030.4 C675.1,1032.4 678.2,1039.1 681.0,1042.4 C683.8,1045.7 688.1,1048.9 689.5,1050.2" stroke-width="1.4" fill="none" />
<path d="M649.2,1047.3 C651.0,1046.5 656.3,1043.2 659.8,1042.4 C663.3,1041.6 666.9,1041.3 670.4,1042.4 C673.9,1043.5 677.4,1046.6 681.0,1048.8 C684.6,1051.0 688.8,1054.1 692.3,1055.8 C695.8,1057.5 700.6,1058.2 702.2,1058.7" stroke-width="1.4" fill="none" />
<path d="M650.6,1049.5 C652.4,1048.8 657.9,1045.7 661.2,1045.2 C664.5,1044.7 666.9,1044.7 670.4,1046.6 C673.9,1048.5 679.0,1054.4 682.4,1056.5 C685.8,1058.6 687.8,1058.3 690.9,1059.4 C694.0,1060.5 699.1,1062.3 700.8,1062.9" stroke-width="1.4" fill="none" />
<path d="M670.4,1042.4 L669.5,1046.6" stroke-width="1.2" fill="none" />
<path d="M678.0,1046.8 L676.0,1051.3" stroke-width="1.2" fill="none" />
<path d="M686.5,1052.2 L684.5,1057.3" stroke-width="1.2" fill="none" />
<path d="M695.0,1056.6 L694.0,1060.3" stroke-width="1.2" fill="none" />
<path d="M678.2,1040.5 L690.0,1048.5" stroke-width="1.1" fill="none" />
<ellipse cx="662.6" cy="1038.9" rx="4" ry="5.6" transform="rotate(-20 662.6 1038.9)" stroke-width="1.4" fill="none"/>
<path d="M704.3,1058.7 C705.8,1059.5 710.3,1060.2 713.5,1063.6 C716.7,1067.0 720.8,1073.5 723.4,1079.2 C726.0,1084.9 728.3,1093.1 729.0,1097.5 C729.7,1101.9 729.1,1102.9 727.5,1105.5 C725.9,1108.1 720.6,1111.8 719.2,1113.1" stroke-width="1.4" fill="none" />
<path d="M688.1,1068.6 C690.2,1068.1 697.0,1064.9 700.8,1065.7 C704.6,1066.5 707.8,1069.4 710.7,1073.5 C713.6,1077.6 716.9,1085.3 718.4,1090.5 C719.9,1095.7 720.5,1100.8 719.9,1104.6 C719.3,1108.4 716.9,1111.1 714.9,1113.1 C712.9,1115.1 709.0,1116.0 707.8,1116.6" stroke-width="1.8" fill="none" />
<path d="M690.0,1070.0 C691.8,1069.6 697.8,1067.0 701.0,1067.8 C704.2,1068.6 706.5,1071.1 709.0,1075.0 C711.5,1078.9 714.8,1086.2 716.3,1091.0 C717.8,1095.8 718.3,1100.5 717.8,1104.0 C717.2,1107.5 714.7,1109.9 713.0,1112.0 C711.3,1114.1 708.7,1115.8 707.8,1116.6" stroke-width="1.1" fill="none" />
<ellipse cx="664.6" cy="1064.3" rx="12.8" ry="17.6" transform="rotate(-20 664.6 1064.3)" stroke-width="3.0" fill="#fff"/>
<ellipse cx="665" cy="1064.3" rx="10.8" ry="15.6" transform="rotate(-20 665 1064.3)" stroke-width="1.2" fill="none"/>
<ellipse cx="667.4" cy="1063.4" rx="7.6" ry="10.8" transform="rotate(-20 667.4 1063.4)" stroke-width="1.8" fill="none"/>
<path d="M665.5,1053 C670.5,1055.5 673.5,1062 672.8,1068.5" stroke-width="1.2" fill="none" />
<path d="M605.4,1000.5 L655.6,971.5 A7.75,11.40 -20 0 1 665.1,992.1 L614.8,1021.1" stroke-width="1.8" fill="#fff" />
<ellipse cx="610.1" cy="1010.8" rx="7.752000000000001" ry="11.4" transform="rotate(-20 610.1 1010.8)" stroke-width="1.8" fill="#fff"/>
<path d="M619.8,1005.9 L648.0,990.4" stroke-width="1.3" fill="none" />
<circle cx="612.1" cy="1009.8" r="0.9" fill="#111" stroke="none"/>
<circle cx="656.8" cy="984.5" r="0.9" fill="#111" stroke="none"/>
<path d="M602.3,1016.6 L591.7,1022.4" stroke-width="1.3" fill="none" />
<path d="M591.7,1022.4 L603.7,1028.9" stroke-width="1.3" fill="none" />
<path d="M607.2,1030.9 L608.2,1031.4" stroke-width="1.6" fill="none" />
<path d="M611.7,1033.4 L623.7,1039.9" stroke-width="1.3" fill="none" />
<path d="M623.7,1039.9 L633.7,1034.8" stroke-width="1.3" fill="none" />
<path d="M637.3,1032.9 L638.3,1032.4" stroke-width="1.6" fill="none" />
<path d="M641.9,1030.5 L651.9,1025.4" stroke-width="1.3" fill="none" />
<path d="M651.9,1025.4 L665.5,1034.1" stroke-width="1.3" fill="none" />
<path d="M666.5,977.7 L677.2,971.9" stroke-width="1.3" fill="none" />
<path d="M677.2,971.9 L689.2,978.8" stroke-width="1.3" fill="none" />
<path d="M692.7,980.8 L693.7,981.5" stroke-width="1.6" fill="none" />
<path d="M697.2,983.5 L709.2,990.4" stroke-width="1.3" fill="none" />
<path d="M709.2,990.4 L701.5,994.9" stroke-width="1.3" fill="none" />
<path d="M698.1,996.9 L697.0,997.5" stroke-width="1.6" fill="none" />
<path d="M693.6,999.5 L685.9,1004.0" stroke-width="1.3" fill="none" />
<path d="M685.9,1004.0 L698.5,1012.7" stroke-width="1.3" fill="none" />
<path d="M706.3,963.2 L696.6,969.0" stroke-width="1.3" fill="none" />
<path d="M696.6,969.0 L713.6,979.7" stroke-width="1.3" fill="none" />
<path d="M717.0,981.8 L718.0,982.4" stroke-width="1.6" fill="none" />
<path d="M721.4,984.5 L738.4,995.2" stroke-width="1.3" fill="none" />
<path d="M738.4,995.2 L719.9,1005.9" stroke-width="1.3" fill="none" />
<path d="M788.3,951.2 L779.5,956.0" stroke-width="1.3" fill="none" />
<path d="M779.5,956.0 L791.5,963.5" stroke-width="1.3" fill="none" />
<path d="M794.9,965.6 L795.9,966.3" stroke-width="1.6" fill="none" />
<path d="M799.3,968.4 L811.3,975.9" stroke-width="1.3" fill="none" />
<path d="M811.3,975.9 L798.6,983.8" stroke-width="1.3" fill="none" />
<path d="M706.8,954.0 L716.8,948.2 A5.58,8.20 -20 0 1 723.6,963.1 L713.6,968.8" stroke-width="1.8" fill="#fff" />
<ellipse cx="710.2" cy="961.4" rx="5.576" ry="8.2" transform="rotate(-20 710.2 961.4)" stroke-width="1.8" fill="#fff"/>
<path d="M724.8,952.5 L732.6,948.2" stroke-width="1.3" fill="none" />
<path d="M790.5,939.8 L800.5,934.0 A5.58,8.20 -20 0 1 807.3,948.9 L797.3,954.6" stroke-width="1.8" fill="#fff" />
<ellipse cx="793.9" cy="947.2" rx="5.576" ry="8.2" transform="rotate(-20 793.9 947.2)" stroke-width="1.8" fill="#fff"/>
<path d="M809.0,939.3 L816.9,935.0" stroke-width="1.3" fill="none" />
<path d="M865.8,935.5 L874.4,930.5 A8.40,12.00 -20 0 1 884.5,952.1 L875.8,957.1" stroke-width="3.0" fill="#fff" />
<ellipse cx="870.8" cy="946.3" rx="8.399999999999999" ry="12.0" transform="rotate(-20 870.8 946.3)" stroke-width="2.0" fill="#fff"/>
<path d="M870.8,939.3 C874.8,941.3 877.8,948.3 878.6,953.4" stroke-width="1.5" fill="none" />
<ellipse cx="906" cy="925.8" rx="12.7" ry="17.3" transform="rotate(-20 906 925.8)" stroke-width="1.5" fill="none"/>
<ellipse cx="906.5" cy="925.5" rx="10.6" ry="15.200000000000001" transform="rotate(-20 906.5 925.5)" stroke-width="1.4" fill="none"/>
<path d="M901.3,909.9 A11.8,16.4 -20 0 1 912.5,940.7" stroke-width="4.2" fill="none" />
<path d="M446.6,1177.5 L455.2,1172.5 A8.40,12.00 -20 0 1 465.3,1194.1 L456.6,1199.1" stroke-width="3.0" fill="#fff" />
<ellipse cx="451.6" cy="1188.3" rx="8.399999999999999" ry="12.0" transform="rotate(-20 451.6 1188.3)" stroke-width="2.0" fill="#fff"/>
<path d="M451.6,1181.3 C455.6,1183.3 458.6,1190.3 459.4,1195.4" stroke-width="1.5" fill="none" />
<ellipse cx="425.2" cy="1204.7" rx="12.7" ry="17.3" transform="rotate(-20 425.2 1204.7)" stroke-width="1.5" fill="none"/>
<ellipse cx="425.7" cy="1204.4" rx="10.6" ry="15.200000000000001" transform="rotate(-20 425.7 1204.4)" stroke-width="1.4" fill="none"/>
<path d="M420.5,1188.8 A11.8,16.4 -20 0 1 431.7,1219.6" stroke-width="4.2" fill="none" />
<path d="M406.7,1215.2 L420.3,1207.8" stroke-width="1.3" fill="none" />
<path d="M435.8,1197.9 L446.0,1192.0" stroke-width="1.3" fill="none" />
<path d="M466.7,1180.0 L469.0,1178.8" stroke-width="1.3" fill="none" />
<path d="M475.3,1175.7 L500.1,1162.7" stroke-width="1.3" fill="none" />
<path d="M516.1,1152.2 L565.5,1124.0" stroke-width="1.3" fill="none" />
<path d="M598.5,1104.6 L640.0,1080.5" stroke-width="1.3" fill="none" />
<path d="M696.6,1042.8 L707.0,1037.0" stroke-width="1.3" fill="none" />
<path d="M716.0,1032.2 L727.0,1025.8" stroke-width="1.3" fill="none" />
<path d="M747.1,1016.6 L751.0,1014.4" stroke-width="1.3" fill="none" />
<path d="M758.8,1009.8 L784.0,995.2" stroke-width="1.3" fill="none" />
<path d="M809.0,982.2 L843.9,962.3" stroke-width="1.3" fill="none" />
<path d="M859.8,953.6 L864.0,951.2" stroke-width="1.3" fill="none" />
<path d="M882.0,940.5 L894.0,933.7" stroke-width="1.3" fill="none" />
<path d="M908.3,924.2 L927.4,914.6" stroke-width="1.3" fill="none" />
<circle cx="427.1" cy="1203.5" r="0.9" fill="#111" stroke="none"/>
<circle cx="508.7" cy="1156.5" r="0.9" fill="#111" stroke="none"/>
<circle cx="572" cy="1120.3" r="0.9" fill="#111" stroke="none"/>
<circle cx="851.9" cy="957.6" r="0.9" fill="#111" stroke="none"/>
<circle cx="902" cy="929" r="0.9" fill="#111" stroke="none"/>
</g>
</svg>
</body></html>
